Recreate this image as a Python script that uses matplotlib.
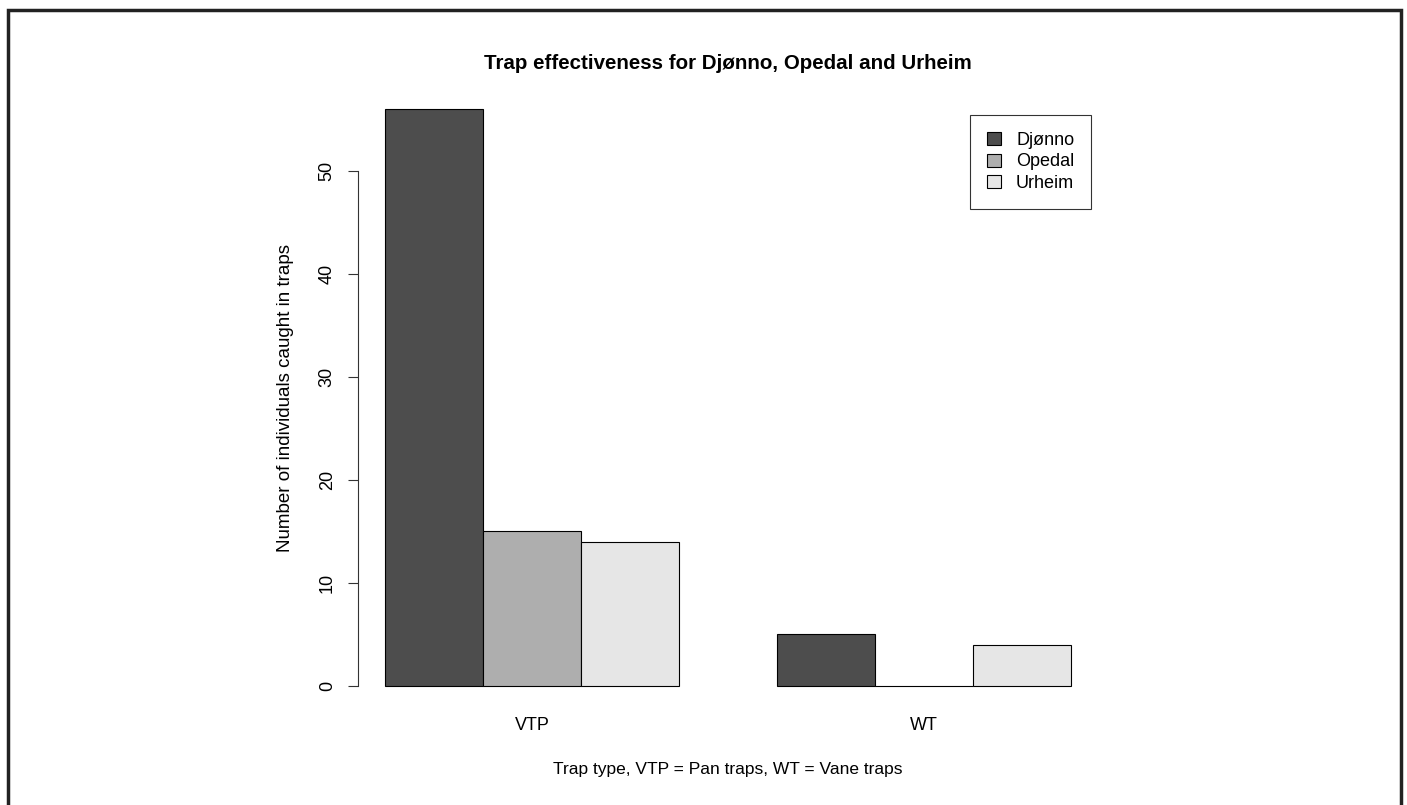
import matplotlib.pyplot as plt
import matplotlib.patches as mpatches
import numpy as np

plt.rcParams['font.family'] = ['Liberation Sans', 'DejaVu Sans']

# counts per site and trap type
trap_types = ["VTP", "WT"]
sites = ["Djønno", "Opedal", "Urheim"]
djonno = [56, 5]
opedal = [15, 0]
urheim = [14, 4]
site_colors = ["#4D4D4D", "#AEAEAE", "#E6E6E6"]

W, H = 1407, 805
fig = plt.figure(figsize=(W / 100, H / 100), dpi=100)

# plot region, laid out like R's barplot (beside=TRUE, space=c(0, 1))
ax = fig.add_axes([358 / W, 1 - 709 / H, (1098 - 358) / W, (709 - 86) / H])

counts = np.array([djonno, opedal, urheim])
n_sites = len(sites)
for g in range(len(trap_types)):
    start = 1 + g * (n_sites + 1)
    for s in range(n_sites):
        ax.bar(start + s, counts[s, g], width=1, align="edge",
               color=site_colors[s], edgecolor="black", linewidth=0.8)

ymax = counts.max()
ax.set_xlim(1 - 0.04 * 7, 8 + 0.04 * 7)
ax.set_ylim(-0.04 * ymax, ymax * 1.04)

centers = [1 + g * (n_sites + 1) + n_sites / 2 for g in range(len(trap_types))]
ax.set_xticks(centers)
ax.set_xticklabels(trap_types, fontsize=13)
ax.tick_params(axis="x", length=0, pad=6)

ax.set_yticks(range(0, 51, 10))
ax.set_yticklabels([str(v) for v in range(0, 51, 10)], fontsize=13)
ax.tick_params(axis="y", length=7, width=0.8, pad=9, color="#333333", labelrotation=90)
for lbl in ax.get_yticklabels():
    lbl.set_verticalalignment("center")

for side in ["top", "right", "bottom"]:
    ax.spines[side].set_visible(False)
ax.spines["left"].set_bounds(0, 50)
ax.spines["left"].set_color("#333333")
ax.spines["left"].set_linewidth(0.8)

ax.set_title("Trap effectiveness for Djønno, Opedal and Urheim",
             fontsize=14.8, fontweight="bold", pad=12)
ax.set_xlabel("Trap type, VTP = Pan traps, WT = Vane traps", fontsize=12.5, labelpad=20)
ax.set_ylabel("Number of individuals caught in traps", fontsize=13.5, labelpad=18)

handles = [mpatches.Patch(facecolor=c, edgecolor="black", linewidth=0.8) for c in site_colors]
leg = ax.legend(handles, sites, loc="upper left",
                bbox_to_anchor=(970 / W, 1 - 115 / H), bbox_transform=fig.transFigure,
                fontsize=13, frameon=True, fancybox=False, edgecolor="black",
                handlelength=0.75, handleheight=0.75, handletextpad=0.85,
                labelspacing=0.24, borderpad=0.95, borderaxespad=0)
leg.get_frame().set_linewidth(0.8)

# outer frame around the figure
fig.patches.append(mpatches.Rectangle((8 / W, -0.05), (1401 - 8) / W, 1.05 - 10 / H,
                                      transform=fig.transFigure, fill=False,
                                      edgecolor="#222222", linewidth=2.5))

fig.savefig("out.png", dpi=100)
